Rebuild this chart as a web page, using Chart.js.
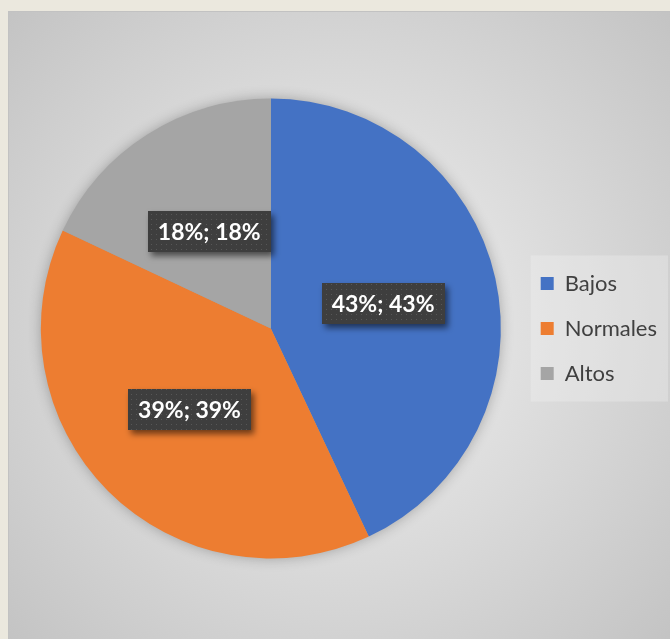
<!DOCTYPE html>
<html>
<head>
<meta charset="utf-8">
<script src="https://cdn.jsdelivr.net/npm/chart.js@4.4.1/dist/chart.umd.min.js"></script>
<style>
  html, body { margin: 0; padding: 0; width: 670px; height: 639px; overflow: hidden; background: #ebe8de; }
  #marco { position: absolute; left: 8px; top: 11px; border-left: 1px solid #c2c2c2; border-top: 1px solid #c2c2c2; }
  canvas { display: block; }
</style>
</head>
<body>
<div id="marco"><canvas id="grafico" width="661" height="627"></canvas></div>
<script>
var categorias = ["Bajos", "Normales", "Altos"];
var porcentajes = [43, 39, 18];
var colores = ["#4472C4", "#ED7D31", "#A5A5A5"];

// trama de puntos para las cajas de etiqueta
function tramaPuntos(ctx) {
    var c = document.createElement("canvas");
    c.width = 5; c.height = 5;
    var t = c.getContext("2d");
    t.fillStyle = "#3e3e3e";
    t.fillRect(0, 0, 5, 5);
    t.fillStyle = "#575757";
    t.fillRect(2, 2, 1, 1);
    return ctx.createPattern(c, "repeat");
}

var fondo = {
    id: "fondo",
    beforeDraw: function (chart) {
        var ctx = chart.ctx, w = chart.width, h = chart.height;
        ctx.save();
        var g = ctx.createRadialGradient(w / 2, h / 2, 0, w / 2, h / 2, 460);
        g.addColorStop(0, "#f2f2f2");
        g.addColorStop(1, "#c3c3c3");
        ctx.fillStyle = g;
        ctx.fillRect(0, 0, w, h);
        // recuadro claro detras de la leyenda
        var cajas = chart.legend.legendHitBoxes;
        if (cajas && cajas.length) {
            var top = cajas[0].top - 17;
            var bottom = cajas[cajas.length - 1].top + cajas[cajas.length - 1].height + 17;
            ctx.fillStyle = "rgba(245,245,245,0.3)";
            ctx.fillRect(cajas[0].left - 10, top, w - 2 - (cajas[0].left - 10), bottom - top);
        }
        ctx.restore();
    }
};

var sombraPastel = {
    id: "sombraPastel",
    beforeDatasetsDraw: function (chart) {
        var arco = chart.getDatasetMeta(0).data[0];
        var ctx = chart.ctx;
        ctx.save();
        ctx.shadowColor = "rgba(0,0,0,0.3)";
        ctx.shadowBlur = 14;
        ctx.fillStyle = "#a0a0a0";
        ctx.beginPath();
        ctx.arc(arco.x, arco.y, arco.outerRadius - 1, 0, Math.PI * 2);
        ctx.fill();
        ctx.restore();
    }
};

var etiquetas = {
    id: "etiquetas",
    afterDatasetsDraw: function (chart) {
        var ctx = chart.ctx;
        var trama = tramaPuntos(ctx);
        chart.getDatasetMeta(0).data.forEach(function (arco, i) {
            var p = arco.tooltipPosition();
            var texto = porcentajes[i] + "%; " + porcentajes[i] + "%";
            var bw = 123, bh = 41;
            ctx.save();
            ctx.shadowColor = "rgba(0,0,0,0.55)";
            ctx.shadowBlur = 6;
            ctx.shadowOffsetX = 3;
            ctx.shadowOffsetY = 4;
            ctx.fillStyle = trama;
            ctx.fillRect(Math.round(p.x - bw / 2), Math.round(p.y - bh / 2), bw, bh);
            ctx.restore();
            ctx.save();
            ctx.fillStyle = "#ffffff";
            ctx.font = "bold 23px Lato";
            ctx.textAlign = "center";
            ctx.textBaseline = "middle";
            ctx.fillText(texto, p.x, p.y + 1);
            ctx.restore();
        });
    }
};

new Chart(document.getElementById("grafico"), {
    type: "pie",
    data: {
        labels: categorias,
        datasets: [{
            data: porcentajes,
            backgroundColor: colores,
            borderWidth: 0
        }]
    },
    options: {
        responsive: false,
        animation: false,
        radius: 230,
        layout: { padding: { left: 15, right: 3, top: 6, bottom: 0 } },
        plugins: {
            tooltip: { enabled: false },
            legend: {
                position: "right",
                labels: {
                    boxWidth: 13,
                    boxHeight: 13,
                    padding: 23,
                    color: "#404040",
                    font: { family: "Lato", size: 22 }
                }
            }
        }
    },
    plugins: [fondo, sombraPastel, etiquetas]
});
</script>
</body>
</html>
